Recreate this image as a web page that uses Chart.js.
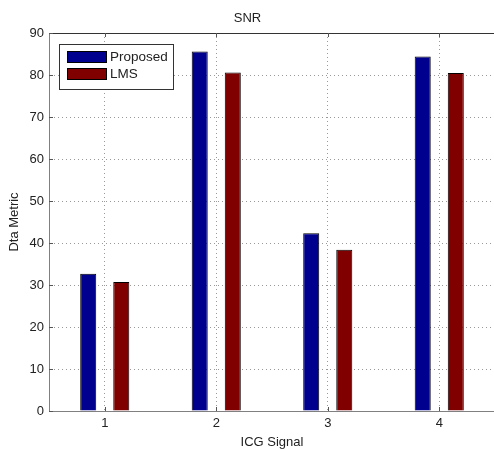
<!DOCTYPE html>
<html>
<head>
<meta charset="utf-8">
<script src="https://cdn.jsdelivr.net/npm/chart.js@4/dist/chart.umd.min.js"></script>
<style>
html,body{margin:0;padding:0;background:#fff;overflow:hidden;}
#wrap{width:495px;height:450px;}
</style>
</head>
<body>
<div id="wrap"><canvas id="c" width="495" height="450"></canvas></div>
<script>
const categories = ['1', '2', '3', '4'];
const proposed = [32.7, 85.6, 42.3, 84.4];
const lms = [30.7, 80.6, 38.4, 80.5];
const seriesNames = ['Proposed', 'LMS'];
const yTicks = [0, 10, 20, 30, 40, 50, 60, 70, 80, 90];

const FONT = 'Liberation Sans, Arial, sans-serif';
const BLUE = '#00008F';
const RED = '#800000';

const extras = {
  id: 'extras',
  afterDraw(chart) {
    const ctx = chart.ctx;
    const a = chart.chartArea;
    const xs = chart.scales.x, ys = chart.scales.y;
    ctx.save();
    ctx.strokeStyle = '#333';
    ctx.lineWidth = 1;
    ctx.beginPath();
    ctx.moveTo(a.left, Math.round(a.top) + 0.5);
    ctx.lineTo(a.right, Math.round(a.top) + 0.5);
    ctx.stroke();
    ctx.strokeStyle = '#555';
    ctx.beginPath();
    yTicks.forEach(v => {
      const y = Math.round(ys.getPixelForValue(v)) + 0.5;
      ctx.moveTo(a.left, y); ctx.lineTo(a.left + 4, y);
    });
    categories.forEach((c, i) => {
      const x = Math.round(xs.getPixelForValue(i)) + 0.5;
      ctx.moveTo(x, a.bottom); ctx.lineTo(x, a.bottom - 4);
      ctx.moveTo(x, a.top); ctx.lineTo(x, a.top + 4);
    });
    ctx.stroke();
    const lx = 59.5, ly = 44.5, lw = 114, lh = 45;
    ctx.fillStyle = '#fff';
    ctx.fillRect(lx, ly, lw, lh);
    ctx.strokeStyle = '#333';
    ctx.strokeRect(lx, ly, lw, lh);
    const cols = [BLUE, RED];
    const rows = [51, 68];
    ctx.font = '13.5px ' + FONT;
    ctx.textBaseline = 'middle';
    ctx.textAlign = 'left';
    seriesNames.forEach((n, i) => {
      ctx.fillStyle = cols[i];
      ctx.fillRect(67, rows[i], 40, 12);
      ctx.strokeStyle = '#000';
      ctx.strokeRect(67.5, rows[i] + 0.5, 39, 11);
      ctx.fillStyle = '#222';
      ctx.fillText(n, 110, rows[i] + 6.5);
    });
    ctx.restore();
  }
};

new Chart(document.getElementById('c'), {
  type: 'bar',
  data: {
    labels: categories,
    datasets: [
      { label: seriesNames[0], data: proposed, backgroundColor: BLUE, borderColor: '#000', borderWidth: 1,
        categoryPercentage: 0.593, barPercentage: 0.485 },
      { label: seriesNames[1], data: lms, backgroundColor: RED, borderColor: '#000', borderWidth: 1,
        categoryPercentage: 0.593, barPercentage: 0.485 }
    ]
  },
  options: {
    responsive: false,
    animation: false,
    devicePixelRatio: 1,
    layout: { padding: { left: 0, right: 0, top: 0, bottom: 0 } },
    plugins: {
      legend: { display: false },
      tooltip: { enabled: false },
      title: { display: true, text: 'SNR', color: '#222', font: { family: FONT, size: 13, weight: 'normal' },
        padding: { top: 10.2, bottom: 7.2 } }
    },
    scales: {
      x: {
        offset: true,
        grid: { offset: false, drawTicks: false, color: '#999', lineWidth: 1 },
        border: { display: true, color: '#808080', width: 1, dash: [1, 3] },
        ticks: { color: '#222', font: { family: FONT, size: 13 }, padding: 5 },
        title: { display: true, text: 'ICG Signal', color: '#222', font: { family: FONT, size: 13 }, padding: { top: 0, bottom: 0 } },
        afterFit(s) { s.height = 39; }
      },
      y: {
        min: 0, max: 90,
        afterBuildTicks(s) { s.ticks = yTicks.map(v => ({ value: v })); },
        grid: { drawTicks: false, color: '#999', lineWidth: 1 },
        border: { display: true, color: '#808080', width: 1, dash: [1, 3] },
        ticks: { color: '#222', font: { family: FONT, size: 13 }, padding: 5 },
        title: { display: true, text: 'Dta Metric', color: '#222', font: { family: FONT, size: 13 }, padding: { top: 7, bottom: 0 } },
        afterFit(s) { s.width = 49; }
      }
    }
  },
  plugins: [extras]
});
</script>
</body>
</html>
